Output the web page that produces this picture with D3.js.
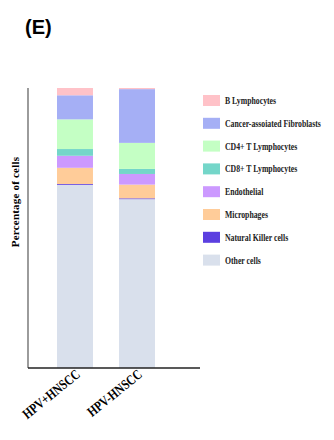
<!DOCTYPE html>
<html>
<head>
<meta charset="utf-8">
<script src="https://cdn.jsdelivr.net/npm/d3@7"></script>
<style>
  body { margin: 0; background: #fff; }
  svg { display: block; }
  .serif { font-family: "Liberation Serif", "Times New Roman", serif; font-weight: bold; }
</style>
</head>
<body>
<svg id="chart" width="334" height="440"></svg>
<script>
var groups = ['HPV+HNSCC', 'HPV-HNSCC'];

var cellTypes = ['Other cells', 'Natural Killer cells', 'Microphages', 'Endothelial',
                 'CD8+ T Lymphocytes', 'CD4+ T Lymphocytes', 'Cancer-ascoiated Fibroblasts', 'B Lymphocytes'];

// percentages per group, same order as cellTypes (bottom to top)
var hpvPos = [65.4, 0.3, 5.8, 4.3, 2.4, 10.6, 8.6, 2.6];
var hpvNeg = [60.3, 0.3, 4.9, 3.8, 1.8, 9.3, 19.2, 0.4];

var colors = ['#d9e0ec', '#5b3fe0', '#ffcc99', '#cc99ff', '#74d6c9', '#c4ffc4', '#a5aff5', '#ffc2c8'];

var legendLabels = ['B Lymphocytes', 'Cancer-assoiated Fibroblasts', 'CD4+ T Lymphocytes', 'CD8+ T Lymphocytes',
                    'Endothelial', 'Microphages', 'Natural Killer cells', 'Other cells'];

var svg = d3.select('#chart');

var margin = { left: 28, top: 88, bottom: 368 },
    axisRight = 200;

var x = d3.scaleBand()
    .domain(groups)
    .range([57, 155])
    .paddingInner(0.42)
    .paddingOuter(0);

var y = d3.scaleLinear()
    .domain([0, 100])
    .range([margin.bottom, margin.top]);

var color = d3.scaleOrdinal().domain(cellTypes).range(colors);

// build a table for the stack
var table = groups.map(function(g, i) {
    var vals = i === 0 ? hpvPos : hpvNeg,
        row = { group: g };
    cellTypes.forEach(function(c, j) { row[c] = vals[j]; });
    return row;
});

var series = d3.stack().keys(cellTypes)(table);

svg.append('g')
    .selectAll('g')
    .data(series)
    .enter().append('g')
        .attr('fill', function(d) { return color(d.key); })
    .selectAll('rect')
    .data(function(d) { return d; })
    .enter().append('rect')
        .attr('x', function(d) { return x(d.data.group); })
        .attr('width', x.bandwidth())
        .attr('y', function(d) { return y(d[1]); })
        .attr('height', function(d) { return y(d[0]) - y(d[1]); });

// axes
svg.append('line')
    .attr('x1', margin.left).attr('x2', margin.left)
    .attr('y1', margin.top).attr('y2', margin.bottom)
    .attr('stroke', '#666').attr('stroke-width', 1.3);

svg.append('line')
    .attr('x1', margin.left).attr('x2', axisRight)
    .attr('y1', margin.bottom).attr('y2', margin.bottom)
    .attr('stroke', '#222').attr('stroke-width', 1.5);

// x labels (the source font is a condensed serif, so squeeze horizontally)
svg.append('g')
    .selectAll('text')
    .data(groups)
    .enter().append('text')
        .attr('class', 'serif')
        .attr('font-size', 14)
        .attr('text-anchor', 'end')
        .attr('transform', function(d) {
            return 'translate(' + (x(d) + x.bandwidth() / 2 + 6) + ',' + (margin.bottom + 8) + ') rotate(-39) scale(0.8,1)';
        })
        .text(function(d) { return d; });

// y label
svg.append('text')
    .attr('class', 'serif')
    .attr('font-size', 11)
    .attr('text-anchor', 'middle')
    .attr('letter-spacing', 0.2)
    .attr('transform', 'translate(19,202) rotate(-90)')
    .text('Percentage of cells');

// title
svg.append('text')
    .attr('x', 25).attr('y', 34)
    .attr('font-family', 'Liberation Sans, Arial, sans-serif')
    .attr('font-weight', 'bold')
    .attr('font-size', 20)
    .text('(E)');

// legend
var legend = svg.append('g')
    .selectAll('g')
    .data(legendLabels)
    .enter().append('g')
        .attr('transform', function(d, i) { return 'translate(203,' + (95 + i * 22.8) + ')'; });

legend.append('rect')
    .attr('width', 17).attr('height', 11)
    .attr('fill', function(d, i) { return colors[colors.length - 1 - i]; });

legend.append('text')
    .attr('class', 'serif')
    .attr('transform', 'translate(22,9) scale(0.74,1)')
    .attr('font-size', 10.5)
    .attr('fill', '#222')
    .text(function(d) { return d; });
</script>
</body>
</html>
